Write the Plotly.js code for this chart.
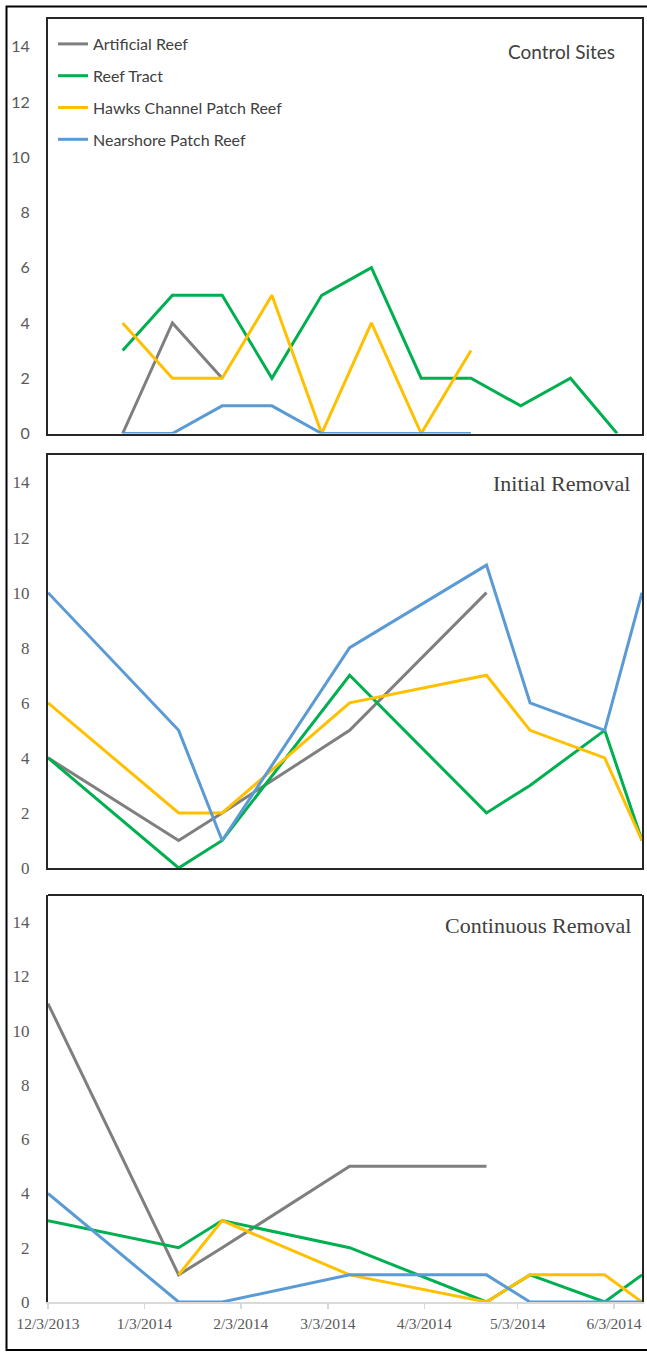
<!DOCTYPE html>
<html>
<head>
<meta charset="utf-8">
<script src="https://cdn.plot.ly/plotly-3.0.1.min.js"></script>
<style>
html,body{margin:0;padding:0;background:#fff;}
#chart{width:647px;height:1352px;}
</style>
</head>
<body>
<div id="chart"></div>
<script>
// ---------- data ----------
const seriesNames = ["Artificial Reef", "Reef Tract", "Hawks Channel Patch Reef", "Nearshore Patch Reef"];
const seriesColors = ["#7f7f7f", "#00b050", "#ffc000", "#5b9bd5"];
const panelTitles = ["Control Sites", "Initial Removal", "Continuous Removal"];

// Control Sites
const controlDates = ["2013-12-27","2014-01-12","2014-01-28","2014-02-13","2014-03-01","2014-03-17","2014-04-02","2014-04-18","2014-05-04","2014-05-20","2014-06-04"];
const controlArtificial = [0, 4, 2, null, null, null, null, null, null, null, null];
const controlReefTract  = [3, 5, 5, 2, 5, 6, 2, 2, 1, 2, 0];
const controlHawks      = [4, 2, 2, 5, 0, 4, 0, 3, null, null, null];
const controlNearshore  = [0, 0, 1, 1, 0, 0, 0, 0, null, null, null];

// Initial Removal
const initialDates = ["2013-12-03","2014-01-14","2014-01-28","2014-03-10","2014-04-23","2014-05-07","2014-05-31","2014-06-12"];
const initialArtificial = [4, 1, 2, 5, 10, null, null, null];
const initialReefTract  = [4, 0, 1, 7, 2, 3, 5, 1];
const initialHawks      = [6, 2, 2, 6, 7, 5, 4, 1];
const initialNearshore  = [10, 5, 1, 8, 11, 6, 5, 10];

// Continuous Removal
const contDates = ["2013-12-03","2014-01-14","2014-01-28","2014-03-10","2014-04-23","2014-05-07","2014-05-31","2014-06-12"];
const contArtificial = [11, 1, 2, 5, 5, null, null, null];
const contReefTract  = [3, 2, 3, 2, 0, 1, 0, 1];
const contHawks      = [null, 1, 3, 1, 0, 1, 1, 0];
const contNearshore  = [4, 0, 0, 1, 1, 0, 0, 0];

const xRange = ["2013-12-03", "2014-06-12"];
const yTickVals = [0, 2, 4, 6, 8, 10, 12, 14];

// ---------- geometry (pixels) ----------
const W = 647, H = 1352;
const px = v => v / W;
const py = v => 1 - v / H;

const panels = [
  {dates: controlDates, vals: [controlArtificial, controlReefTract, controlHawks, controlNearshore], top: 19, bottom: 433.5},
  {dates: initialDates, vals: [initialArtificial, initialReefTract, initialHawks, initialNearshore], top: 455, bottom: 868},
  {dates: contDates, vals: [contArtificial, contReefTract, contHawks, contNearshore], top: 895, bottom: 1302}
];

const sansFont = "Lato, Liberation Sans, sans-serif";
const serifFont = "Liberation Serif, Times New Roman, serif";

const traces = [];
panels.forEach((p, pi) => {
  const suffix = pi === 0 ? "" : String(pi + 1);
  p.vals.forEach((v, si) => {
    traces.push({
      type: "scatter", mode: "lines",
      x: p.dates, y: v,
      name: seriesNames[si],
      line: {color: seriesColors[si], width: 3},
      xaxis: "x" + suffix, yaxis: "y" + suffix,
      showlegend: pi === 0,
      legendgroup: "g" + si,
      connectgaps: false,
      hoverinfo: "x+y+name"
    });
  });
});

const layout = {
  width: W, height: H,
  margin: {l: 0, r: 0, t: 0, b: 0},
  paper_bgcolor: "#ffffff", plot_bgcolor: "#ffffff",
  showlegend: true,
  legend: {
    x: px(53), y: py(27), xanchor: "left", yanchor: "top",
    bgcolor: "rgba(0,0,0,0)",
    font: {family: sansFont, size: 16, color: "#404040"},
    traceorder: "grouped", tracegroupgap: 8,
    itemwidth: 30
  },
  annotations: [],
  shapes: []
};

panels.forEach((p, pi) => {
  const suffix = pi === 0 ? "" : String(pi + 1);
  const isLast = pi === 2;
  const font = pi === 0 ? {family: sansFont, size: 16, color: "#595959"} : {family: serifFont, size: 17, color: "#595959"};
  layout["xaxis" + suffix] = {
    domain: [px(48), px(642)],
    anchor: "y" + suffix,
    type: "date",
    range: xRange,
    showgrid: false, zeroline: false,
    showline: true,
    linecolor: isLast ? "#d9d9d9" : "#262626",
    linewidth: isLast ? 1.5 : 2,
    mirror: !isLast,
    showticklabels: isLast,
    ticks: isLast ? "outside" : "",
    ticklen: 5, tickcolor: "#d9d9d9", tickwidth: 1.5,
    tick0: "2013-12-03", dtick: "M1",
    tickformat: "%-m/%-d/%Y",
    tickfont: {family: serifFont, size: 15.5, color: "#595959"},
    ticklabelstandoff: 2,
    fixedrange: true
  };
  layout["yaxis" + suffix] = {
    domain: [py(p.bottom), py(p.top)],
    anchor: "x" + suffix,
    range: [0, 15],
    tickvals: yTickVals,
    showgrid: false, zeroline: false,
    showline: true, linecolor: "#262626", linewidth: 2, mirror: true,
    ticks: "",
    tickfont: font,
    ticklabelstandoff: 13,
    fixedrange: true
  };
  if (isLast) {
    layout.shapes.push({
      type: "line", xref: "x3 domain", yref: "y3 domain",
      x0: 0, x1: 1, y0: 1, y1: 1,
      line: {color: "#262626", width: 2}
    });
  }
});

// panel titles
layout.annotations.push({
  text: panelTitles[0], xref: "paper", yref: "paper",
  x: px(617), y: py(52), xanchor: "right", yanchor: "middle", showarrow: false,
  font: {family: sansFont, size: 19, color: "#404040"}
});
layout.annotations.push({
  text: panelTitles[1], xref: "paper", yref: "paper",
  x: px(632), y: py(484), xanchor: "right", yanchor: "middle", showarrow: false,
  font: {family: serifFont, size: 22, color: "#404040"}
});
layout.annotations.push({
  text: panelTitles[2], xref: "paper", yref: "paper",
  x: px(633), y: py(925), xanchor: "right", yanchor: "middle", showarrow: false,
  font: {family: serifFont, size: 22, color: "#404040"}
});

// outer frame (left, top, bottom edges; right edge lies outside picture)
layout.shapes.push({
  type: "path", xref: "paper", yref: "paper",
  path: `M ${1.01} ${py(6.5)} L ${px(6.5)} ${py(6.5)} L ${px(6.5)} ${py(1350)} L ${1.01} ${py(1350)}`,
  line: {color: "#000000", width: 2}
});

Plotly.newPlot("chart", traces, layout, {displayModeBar: false, staticPlot: true});
</script>
</body>
</html>
